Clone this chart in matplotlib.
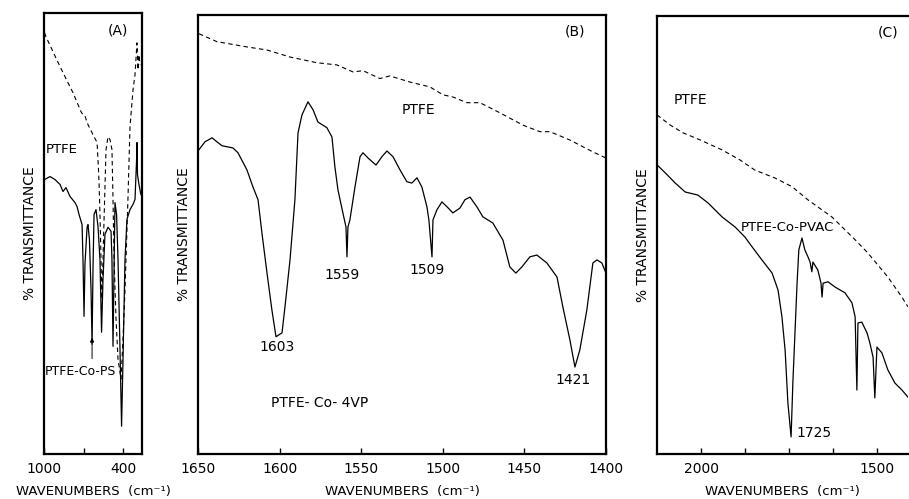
"""
IR spectra of PTFE and grafted copolymers, three panels (A, B, C).
Values read off the scanned figure (arbitrary % transmittance scale 0-100).
"""

import numpy as np
import matplotlib
matplotlib.use("Agg")
import matplotlib.pyplot as plt

# ---- panel A : PTFE vs PTFE-Co-PS (1000-250 cm-1)
a_ptfe_wn = [996, 985, 878, 780, 719, 704, 689, 673, 628, 597, 590, 582, 575, 567,
             560, 544, 529, 514, 499, 484, 476, 468, 453, 438, 415, 400, 385, 370,
             362, 347, 324, 309, 294, 286, 279, 271]
a_ptfe_t = [95.5, 94.6, 87.8, 81.9, 77.6, 76.9, 76.7, 75.1, 72.4, 70.6, 66.7, 61.5,
            54.3, 44.1, 35.1, 53.2, 69.0, 71.9, 71.3, 69.0, 57.7, 44.1, 30.5, 21.5,
            17.0, 26.0, 37.3, 50.9, 58.4, 74.2, 82.6, 86.0, 93.2, 87.1, 90.5, 88.2]
a_ps_wn = [996, 954, 916, 878, 856, 833, 803, 765, 749, 734, 711, 704, 696, 689,
           673, 666, 655, 643, 635, 628, 620, 605, 590, 575, 563, 552, 537, 514,
           491, 484, 476, 468, 461, 449, 438, 423, 411, 400, 385, 370, 347, 324,
           309, 297, 294, 290, 279, 264]
a_ps_t = [62.2, 62.9, 62.2, 61.1, 59.5, 60.4, 58.4, 57.0, 56.1, 54.3, 52.0, 44.1,
          31.2, 43.0, 51.4, 52.0, 48.6, 37.3, 24.9, 41.9, 54.3, 55.4, 51.6, 44.1,
          27.6, 39.6, 49.8, 51.4, 50.5, 44.1, 24.4, 41.9, 57.0, 54.3, 44.1, 23.8,
          6.3, 21.5, 44.1, 53.2, 55.4, 56.6, 57.7, 66.7, 70.6, 63.3, 61.1, 58.8]

# ---- panel B : PTFE vs PTFE-Co-4VP (1650-1400 cm-1)
b_ptfe_wn = [1649.4, 1638.4, 1620.0, 1607.7, 1593.6, 1577.1, 1564.8, 1555.0, 1548.9,
             1538.5, 1532.4, 1520.1, 1507.9, 1499.9, 1493.8, 1485.2, 1477.2, 1465.0,
             1450.9, 1440.5, 1434.3, 1422.1, 1408.0, 1400.0]
b_ptfe_t = [95.7, 93.9, 92.7, 92.0, 90.4, 89.1, 88.6, 87.0, 87.3, 85.5, 86.1, 84.7,
            83.6, 81.8, 81.3, 80.0, 80.0, 77.7, 74.9, 73.4, 73.4, 71.5, 68.8, 67.4]
b_vp_wn = [1649.4, 1645.7, 1641.4, 1638.4, 1635.3, 1628.6, 1625.5, 1620.0, 1616.3,
           1613.2, 1610.8, 1607.7, 1604.7, 1602.2, 1598.5, 1596.7, 1593.6, 1590.6,
           1588.7, 1586.3, 1582.6, 1579.5, 1576.5, 1571.0, 1567.9, 1566.1, 1564.2,
           1561.2, 1559.3, 1558.7, 1558.1, 1556.9, 1553.8, 1550.7, 1548.9, 1545.8,
           1540.9, 1537.3, 1534.2, 1530.5, 1526.2, 1522.0, 1518.9, 1515.8, 1512.8,
           1509.7, 1508.5, 1506.6, 1506.0, 1503.6, 1500.5, 1497.4, 1493.8, 1489.5,
           1486.4, 1483.3, 1479.1, 1475.4, 1469.3, 1463.1, 1458.9, 1455.2, 1451.5,
           1446.6, 1442.3, 1436.2, 1430.0, 1426.4, 1422.1, 1419.0, 1416.0, 1411.7,
           1408.0, 1405.5, 1402.5, 1400.0]
b_vp_t = [69.3, 71.1, 72.0, 71.1, 70.2, 69.7, 68.6, 64.7, 60.8, 57.9, 50.3, 41.2,
          32.8, 26.7, 27.6, 33.5, 44.2, 57.9, 73.1, 77.2, 80.2, 78.4, 75.6, 74.3,
          72.2, 65.4, 60.1, 54.9, 51.7, 44.9, 51.7, 53.3, 60.8, 67.7, 68.6, 67.4,
          65.8, 67.7, 69.0, 67.7, 64.7, 62.0, 61.7, 62.9, 60.8, 56.3, 53.3, 44.9,
          53.3, 55.6, 57.4, 56.3, 54.9, 56.0, 57.9, 58.5, 56.3, 54.0, 52.6, 48.7,
          42.6, 41.2, 42.6, 44.9, 45.3, 43.5, 40.3, 33.5, 26.0, 19.8, 23.7, 32.8,
          43.5, 44.2, 43.5, 41.2]

# ---- panel C : PTFE vs PTFE-Co-PVAC (2125-1412 cm-1)
c_ptfe_wn = [2125, 2088, 2051, 2003, 1940, 1889, 1847, 1790, 1741, 1696, 1628,
             1562, 1526, 1469, 1429, 1412]
c_ptfe_t = [77.4, 75.1, 73.3, 71.7, 69.4, 67.1, 64.8, 63.0, 61.0, 58.0, 54.1,
            48.9, 45.9, 40.4, 35.8, 33.6]
c_pvac_wn = [2125, 2102, 2074, 2045, 2009, 1980, 1940, 1903, 1875, 1855, 1827,
             1798, 1781, 1770, 1761, 1753, 1744, 1739, 1727, 1722, 1713, 1705,
             1696, 1690, 1685, 1682, 1668, 1659, 1656, 1653, 1639, 1619, 1591,
             1571, 1562, 1557, 1554, 1543, 1528, 1520, 1511, 1506, 1500, 1486,
             1469, 1449, 1429, 1412]
c_pvac_t = [66.0, 64.2, 61.9, 59.8, 59.1, 57.3, 54.1, 51.8, 49.5, 47.3, 44.3,
            41.3, 37.4, 31.3, 23.7, 11.6, 3.9, 16.2, 39.0, 46.6, 49.3, 46.6,
            45.0, 43.8, 41.6, 43.8, 42.0, 39.0, 35.8, 39.0, 39.3, 38.1, 36.8,
            34.5, 31.3, 14.6, 29.9, 30.1, 27.6, 25.3, 22.1, 12.8, 24.4, 23.1,
            19.2, 16.2, 14.6, 13.0]

XLAB = "WAVENUMBERS  (cm\u207b\u00b9)"
YLAB = "% TRANSMITTANCE"


def style(ax, xlim, ticks, labels):
    ax.set_xlim(*xlim)
    ax.set_ylim(0, 100)
    ax.set_yticks([])
    ax.set_xticks(ticks, labels=labels)
    ax.tick_params(axis="x", direction="in", length=4, width=1, pad=6, labelsize=10)
    for s in ax.spines.values():
        s.set_linewidth(1.6)
    ax.set_xlabel(XLAB, fontsize=9.5, labelpad=6)
    ax.set_ylabel(YLAB, fontsize=10, labelpad=5)


fig = plt.figure(figsize=(9.09, 4.99), dpi=100)
axA = fig.add_axes([0.0484, 0.0902, 0.1078, 0.884])
axB = fig.add_axes([0.2178, 0.0902, 0.4488, 0.880])
axC = fig.add_axes([0.7228, 0.0902, 0.2760, 0.878])

dash = dict(color="k", lw=0.8, ls=(0, (4, 3)))
solid = dict(color="k", lw=0.9)

# A
axA.plot(a_ptfe_wn, a_ptfe_t, **dash)
axA.plot(a_ps_wn, a_ps_t, **solid)
style(axA, (1000, 256), [1000, 700, 400], ["1000", "", "400"])
axA.text(438, 96, "(A)", ha="center", va="center", fontsize=10)
axA.text(985, 69, "PTFE", ha="left", va="center", fontsize=9.5)
axA.text(992, 18.8, "PTFE-Co-PS", ha="left", va="center", fontsize=9)
axA.annotate("", xy=(635, 27), xytext=(635, 21),
             arrowprops=dict(arrowstyle="-|>", lw=0.7, color="k", mutation_scale=6))

# B
axB.plot(b_ptfe_wn, b_ptfe_t, **dash)
axB.plot(b_vp_wn, b_vp_t, **solid)
style(axB, (1650, 1400), [1650, 1600, 1550, 1500, 1450, 1400],
      ["1650", "1600", "1550", "1500", "1450", "1400"])
axB.text(1419, 96.1, "(B)", ha="center", va="center", fontsize=10)
axB.text(1515.2, 78.4, "PTFE", ha="center", va="center", fontsize=10)
axB.text(1575.3, 11.6, "PTFE- Co- 4VP", ha="center", va="center", fontsize=10)
for wn, t, lab in [(1601.6, 24.4, "1603"), (1561.8, 40.8, "1559"),
                   (1509.7, 41.9, "1509"), (1420.2, 16.9, "1421")]:
    axB.text(wn, t, lab, ha="center", va="center", fontsize=10)

# C
axC.plot(c_ptfe_wn, c_ptfe_t, **dash)
axC.plot(c_pvac_wn, c_pvac_t, **solid)
style(axC, (2125, 1412), [2000, 1875, 1750, 1625, 1500], ["2000", "", "", "", "1500"])
axC.spines["right"].set_visible(False)
axC.text(1469, 96.3, "(C)", ha="center", va="center", fontsize=10)
axC.text(2031, 80.8, "PTFE", ha="center", va="center", fontsize=10)
axC.text(1753, 51.8, "PTFE-Co-PVAC", ha="center", va="center", fontsize=9.5)
axC.text(1730, 4.8, "1725", ha="left", va="center", fontsize=10)

fig.savefig("out.png", dpi=100)
